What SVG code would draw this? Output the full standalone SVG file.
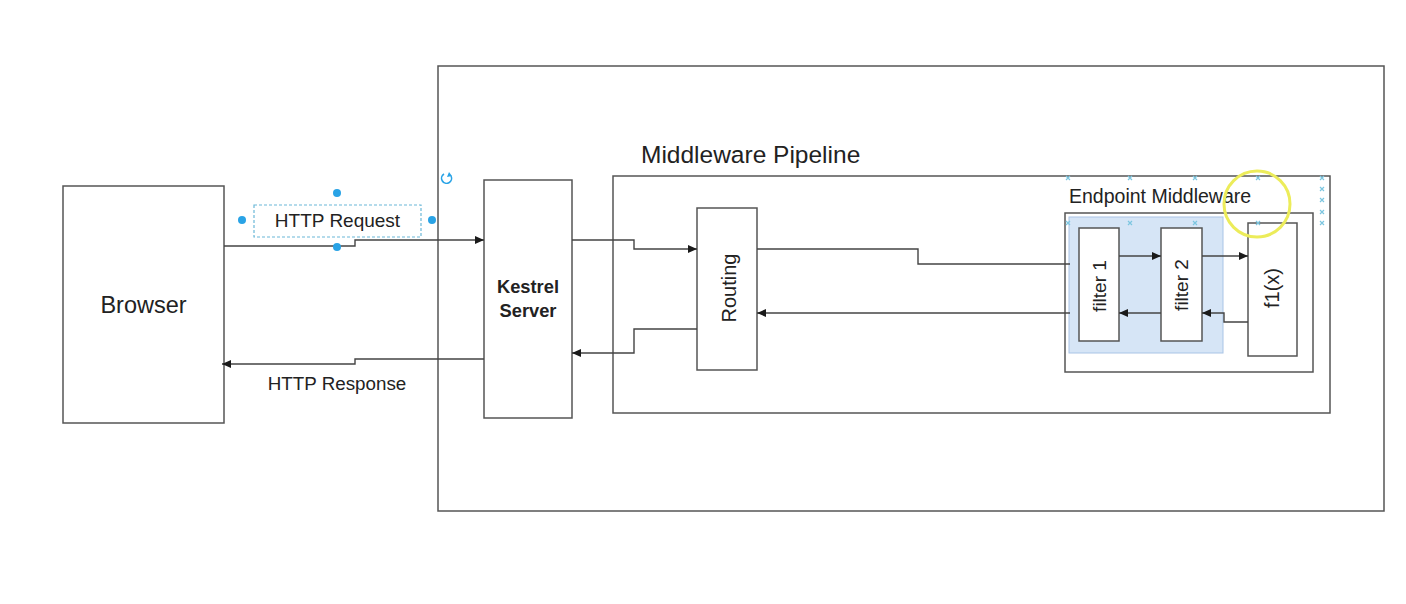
<svg xmlns="http://www.w3.org/2000/svg" width="1406" height="604" viewBox="0 0 1406 604">
<defs>
<marker id="arr" markerWidth="10" markerHeight="9" refX="9" refY="4" orient="auto" markerUnits="userSpaceOnUse">
<path d="M0,0 L9,4 L0,8 z" fill="#1a1a1a"/>
</marker>
<style>
.box{fill:#fff;stroke:#555;stroke-width:1.5}
.frame{fill:none;stroke:#555;stroke-width:1.5}
.ln{fill:none;stroke:#444;stroke-width:1.4;marker-end:url(#arr)}
.ln0{fill:none;stroke:#444;stroke-width:1.4}
.t{font-family:"Liberation Sans",Arial,sans-serif;fill:#222}
.h{fill:#29a3e6}
.xm{stroke:#7cc6e0;stroke-width:1.2}
</style>
</defs>
<rect width="1406" height="604" fill="#fff"/>

<g id="outer-frame">
<rect class="frame" x="438" y="66" width="946" height="445"/>
</g>

<g id="pipeline">
<rect class="frame" x="613" y="176" width="717" height="237"/>
<text class="t" x="641" y="163" font-size="24.5">Middleware Pipeline</text>
</g>

<g id="browser">
<rect class="box" x="63" y="186" width="161" height="237"/>
<text class="t" x="143.5" y="313" font-size="23.5" text-anchor="middle">Browser</text>
</g>

<g id="kestrel">
<rect class="box" x="484" y="180" width="88" height="238"/>
<text class="t" x="528" y="293" font-size="18.3" font-weight="bold" text-anchor="middle">Kestrel</text>
<text class="t" x="528" y="317" font-size="18.3" font-weight="bold" text-anchor="middle">Server</text>
</g>

<g id="routing">
<rect class="box" x="697" y="208" width="60" height="162"/>
<text class="t" font-size="20" text-anchor="middle" transform="translate(736,288) rotate(-90)">Routing</text>
</g>

<g id="endpoint-middleware">
<rect class="frame" x="1065" y="213" width="248" height="159"/>
<text class="t" x="1069" y="203" font-size="19.5">Endpoint Middleware</text>
<rect x="1069" y="217" width="154" height="136" fill="#cfe0f5" fill-opacity="0.85" stroke="#a9c4e6" stroke-width="1"/>
</g>

<g id="filter1">
<rect class="box" x="1079" y="228" width="40" height="113"/>
<text class="t" font-size="19" text-anchor="middle" transform="translate(1106,286) rotate(-90)">filter 1</text>
</g>

<g id="filter2">
<rect class="box" x="1161" y="228" width="41" height="113"/>
<text class="t" font-size="19" text-anchor="middle" transform="translate(1188,285) rotate(-90)">filter 2</text>
</g>

<g id="f1x">
<rect class="box" x="1248" y="223" width="49" height="133"/>
<text class="t" font-size="20" text-anchor="middle" transform="translate(1279,288) rotate(-90)">f1(x)</text>
</g>

<g id="connectors">
<path class="ln" d="M224,246 H355 V240 H484"/>
<path class="ln" d="M484,359 H355 V364 H222"/>
<path class="ln" d="M572,240 H634 V249 H697"/>
<path class="ln" d="M697,329 H634 V353 H572"/>
<path class="ln0" d="M757,249 H918 V264 H1070"/>
<path class="ln" d="M1070,313 H757"/>
<path class="ln" d="M1119,256 H1161"/>
<path class="ln" d="M1202,256 H1248"/>
<path class="ln" d="M1248,322 H1224 V313 H1202"/>
<path class="ln" d="M1161,313 H1119"/>
</g>

<g id="labels">
<rect x="254" y="205" width="167" height="32" fill="none" stroke="#6bb8d8" stroke-width="1.2" stroke-dasharray="3,2"/>
<text class="t" x="337.5" y="227" font-size="19" text-anchor="middle">HTTP Request</text>
<text class="t" x="337" y="390" font-size="18.8" text-anchor="middle">HTTP Response</text>
</g>

<g id="selection-handles">
<circle class="h" cx="337" cy="193" r="4"/>
<circle class="h" cx="242" cy="220" r="4"/>
<circle class="h" cx="432" cy="220" r="4"/>
<circle class="h" cx="337" cy="247" r="4"/>
<path d="M444,174 A5,5 0 1 0 451,176" fill="none" stroke="#29a3e6" stroke-width="1.6"/>
<path d="M449,172 L452,176 L447,177 z" fill="#29a3e6"/>
<g class="xm">
<path d="M1066,176 l4,4 m0,-4 l-4,4"/>
<path d="M1128,176 l4,4 m0,-4 l-4,4"/>
<path d="M1193,176 l4,4 m0,-4 l-4,4"/>
<path d="M1256,176 l4,4 m0,-4 l-4,4"/>
<path d="M1320,176 l4,4 m0,-4 l-4,4"/>
<path d="M1320,187 l4,4 m0,-4 l-4,4"/>
<path d="M1320,198 l4,4 m0,-4 l-4,4"/>
<path d="M1320,210 l4,4 m0,-4 l-4,4"/>
<path d="M1320,221 l4,4 m0,-4 l-4,4"/>
<path d="M1066,221 l4,4 m0,-4 l-4,4"/>
<path d="M1128,221 l4,4 m0,-4 l-4,4"/>
<path d="M1193,221 l4,4 m0,-4 l-4,4"/>
<path d="M1256,221 l4,4 m0,-4 l-4,4"/>
</g>
<circle cx="1257" cy="204" r="33" fill="none" stroke="#ecec5a" stroke-width="3"/>
</g>
</svg>
